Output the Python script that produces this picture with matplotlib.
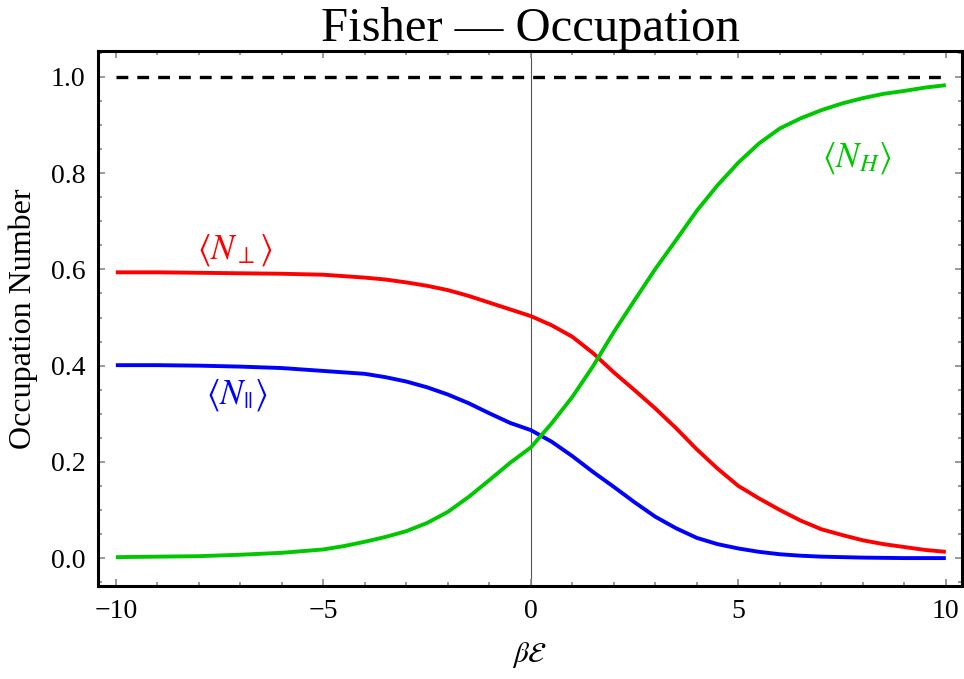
import matplotlib
matplotlib.use("Agg")
import matplotlib.pyplot as plt
from matplotlib.ticker import MultipleLocator, FuncFormatter

x_vals = [-10, -9, -8, -7, -6, -5, -4.5, -4, -3.5, -3, -2.5, -2, -1.5, -1, -0.5, 0, 0.5, 1,
          1.5, 2, 2.5, 3, 3.5, 4, 4.5, 5, 5.5, 6, 6.5, 7, 7.5, 8, 8.5, 9, 9.5, 10]

n_perp = [0.594, 0.594, 0.593, 0.592, 0.591, 0.589, 0.586, 0.583, 0.579, 0.573, 0.566, 0.557,
          0.545, 0.531, 0.517, 0.503, 0.484, 0.460, 0.426, 0.386, 0.349, 0.311, 0.270, 0.226,
          0.186, 0.150, 0.124, 0.100, 0.078, 0.060, 0.048, 0.037, 0.029, 0.023, 0.017, 0.013]

n_par = [0.401, 0.401, 0.400, 0.398, 0.395, 0.389, 0.386, 0.383, 0.376, 0.367, 0.355, 0.340,
         0.322, 0.301, 0.281, 0.266, 0.242, 0.212, 0.179, 0.148, 0.116, 0.086, 0.062, 0.042,
         0.029, 0.020, 0.013, 0.008, 0.005, 0.003, 0.002, 0.001, 0.0005, 0.000, 0.000, 0.000]

n_h = [0.002, 0.003, 0.004, 0.007, 0.011, 0.018, 0.025, 0.034, 0.044, 0.056, 0.073, 0.096,
       0.127, 0.162, 0.198, 0.230, 0.280, 0.335, 0.399, 0.470, 0.536, 0.601, 0.661, 0.722,
       0.775, 0.822, 0.862, 0.893, 0.914, 0.931, 0.945, 0.956, 0.965, 0.971, 0.978, 0.983]

ref_level = [1.0, 1.0]
ref_x = [-10, 10]

title = "Fisher \u2014 Occupation"
xlabel = r"$\beta\mathcal{E}$"
ylabel = "Occupation Number"
lbl_perp = r"$\langle N_{\perp}\rangle$"
lbl_par = r"$\langle N_{||}\rangle$"
lbl_h = r"$\langle N_{H}\rangle$"

plt.rcParams["font.family"] = ["Liberation Serif", "DejaVu Serif"]
plt.rcParams["mathtext.fontset"] = "stix"
plt.rcParams["lines.scale_dashes"] = False

fig = plt.figure(figsize=(9.64, 6.79), dpi=100)
ax = fig.add_axes([98 / 964, 1 - 586 / 679, (962 - 98) / 964, (586 - 51) / 679])

red = "#ff0000"
blue = "#0000ff"
green = "#00c800"

ax.axvline(0, color="#555555", lw=0.8, zorder=1)
ax.plot(ref_x, ref_level, color="black", lw=2.4, dashes=(8.5, 6.5), zorder=2)
ax.plot(x_vals, n_perp, color=red, lw=2.8, zorder=3, solid_capstyle="butt", solid_joinstyle="round")
ax.plot(x_vals, n_par, color=blue, lw=2.8, zorder=3, solid_capstyle="butt", solid_joinstyle="round")
ax.plot(x_vals, n_h, color=green, lw=2.8, zorder=3, solid_capstyle="butt", solid_joinstyle="round")

ax.text(-7.13, 0.64, lbl_perp, color=red, fontsize=25, ha="center", va="center")
ax.text(-7.08, 0.338, lbl_par, color=blue, fontsize=25, ha="center", va="center")
ax.text(7.86, 0.832, lbl_h, color=green, fontsize=25, ha="center", va="center")

ax.set_xlim(-10.43, 10.39)
ax.set_ylim(-0.058, 1.054)

ax.xaxis.set_major_locator(MultipleLocator(5))
ax.xaxis.set_minor_locator(MultipleLocator(1))
ax.yaxis.set_major_locator(MultipleLocator(0.2))
ax.yaxis.set_minor_locator(MultipleLocator(0.05))
ax.yaxis.set_major_formatter(FuncFormatter(lambda v, p: f"{v:.1f}"))
ax.xaxis.set_major_formatter(FuncFormatter(
    lambda v, p: ("\u2212" + f"{abs(v):.0f}") if v < -1e-9 else f"{abs(v):.0f}"))

ax.tick_params(which="both", direction="in", top=True, right=True, color="#888888",
               labelsize=20, width=1.2)
ax.tick_params(which="major", length=5, pad=9)
ax.tick_params(which="minor", length=3)

for s in ax.spines.values():
    s.set_linewidth(2.2)
    s.set_color("black")

ax.set_title(title, fontsize=35, pad=5)
ax.set_xlabel(xlabel, fontsize=21, labelpad=12)
ax.set_ylabel(ylabel, fontsize=23, labelpad=9)

fig.savefig("out.png", dpi=100)
